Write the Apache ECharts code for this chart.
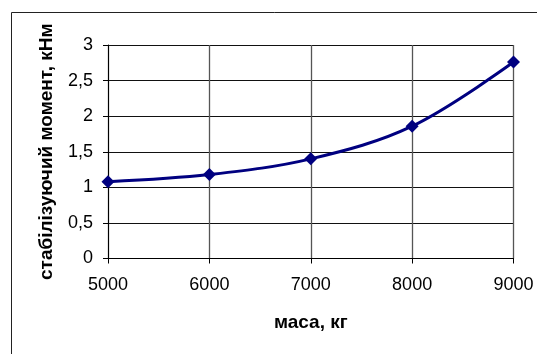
<!DOCTYPE html>
<html>
<head>
<meta charset="utf-8">
<script src="https://cdn.jsdelivr.net/npm/echarts@6/dist/echarts.min.js"></script>
<style>
  html, body { margin: 0; padding: 0; background: #fff; }
  #chart { width: 537px; height: 354px; }
</style>
</head>
<body>
<div id="chart"></div>
<script>
// Mass of the vehicle, kg
const masses = [5000, 6000, 7000, 8000, 9000];
// Stabilising moment, kN·m
const moments = [1.08, 1.18, 1.40, 1.86, 2.76];

const xTitle = 'маса, кг';
const yTitle = 'стабілізуючий момент, кНм';

const fontFamily = '"Liberation Sans", Arial, sans-serif';

const chart = echarts.init(document.getElementById('chart'), null, { renderer: 'canvas' });

chart.setOption({
  animation: false,
  backgroundColor: '#ffffff',
  graphic: [{
    type: 'rect',
    silent: true,
    shape: { x: 11.5, y: 12.5, width: 600, height: 400 },
    style: { fill: 'none', stroke: '#222', lineWidth: 1 }
  }],
  grid: { left: 108, right: 23.5, top: 45, bottom: 95.5, containLabel: false },
  xAxis: {
    type: 'value',
    min: 5000, max: 9000, interval: 1000,
    name: xTitle,
    nameLocation: 'middle',
    nameGap: 55,
    nameTextStyle: { fontFamily, fontSize: 19, fontWeight: 'bold', color: '#000' },
    axisLine: { show: true, lineStyle: { color: '#000', width: 1 } },
    axisTick: { show: true, length: 5, lineStyle: { color: '#000' } },
    axisLabel: { margin: 18, fontFamily, fontSize: 18, color: '#000', formatter: v => String(v) },
    splitLine: { show: true, lineStyle: { color: '#555', width: 1.3 } }
  },
  yAxis: {
    type: 'value',
    min: 0, max: 3, interval: 0.5,
    name: yTitle,
    nameLocation: 'middle',
    nameGap: 52,
    nameTextStyle: { fontFamily, fontSize: 19, fontWeight: 'bold', color: '#000' },
    axisLine: { show: true, lineStyle: { color: '#000', width: 1 } },
    axisTick: { show: true, length: 5, lineStyle: { color: '#000' } },
    axisLabel: {
      margin: 15, fontFamily, fontSize: 18, color: '#000',
      formatter: v => String(v).replace('.', ',')
    },
    splitLine: { show: true, lineStyle: { color: '#111', width: 1 } }
  },
  series: [{
    type: 'line',
    data: masses.map((m, i) => [m, moments[i]]),
    smooth: 0.35,
    symbol: 'diamond',
    symbolSize: 13,
    lineStyle: { color: '#000080', width: 3 },
    itemStyle: { color: '#000080' }
  }]
});
</script>
</body>
</html>
